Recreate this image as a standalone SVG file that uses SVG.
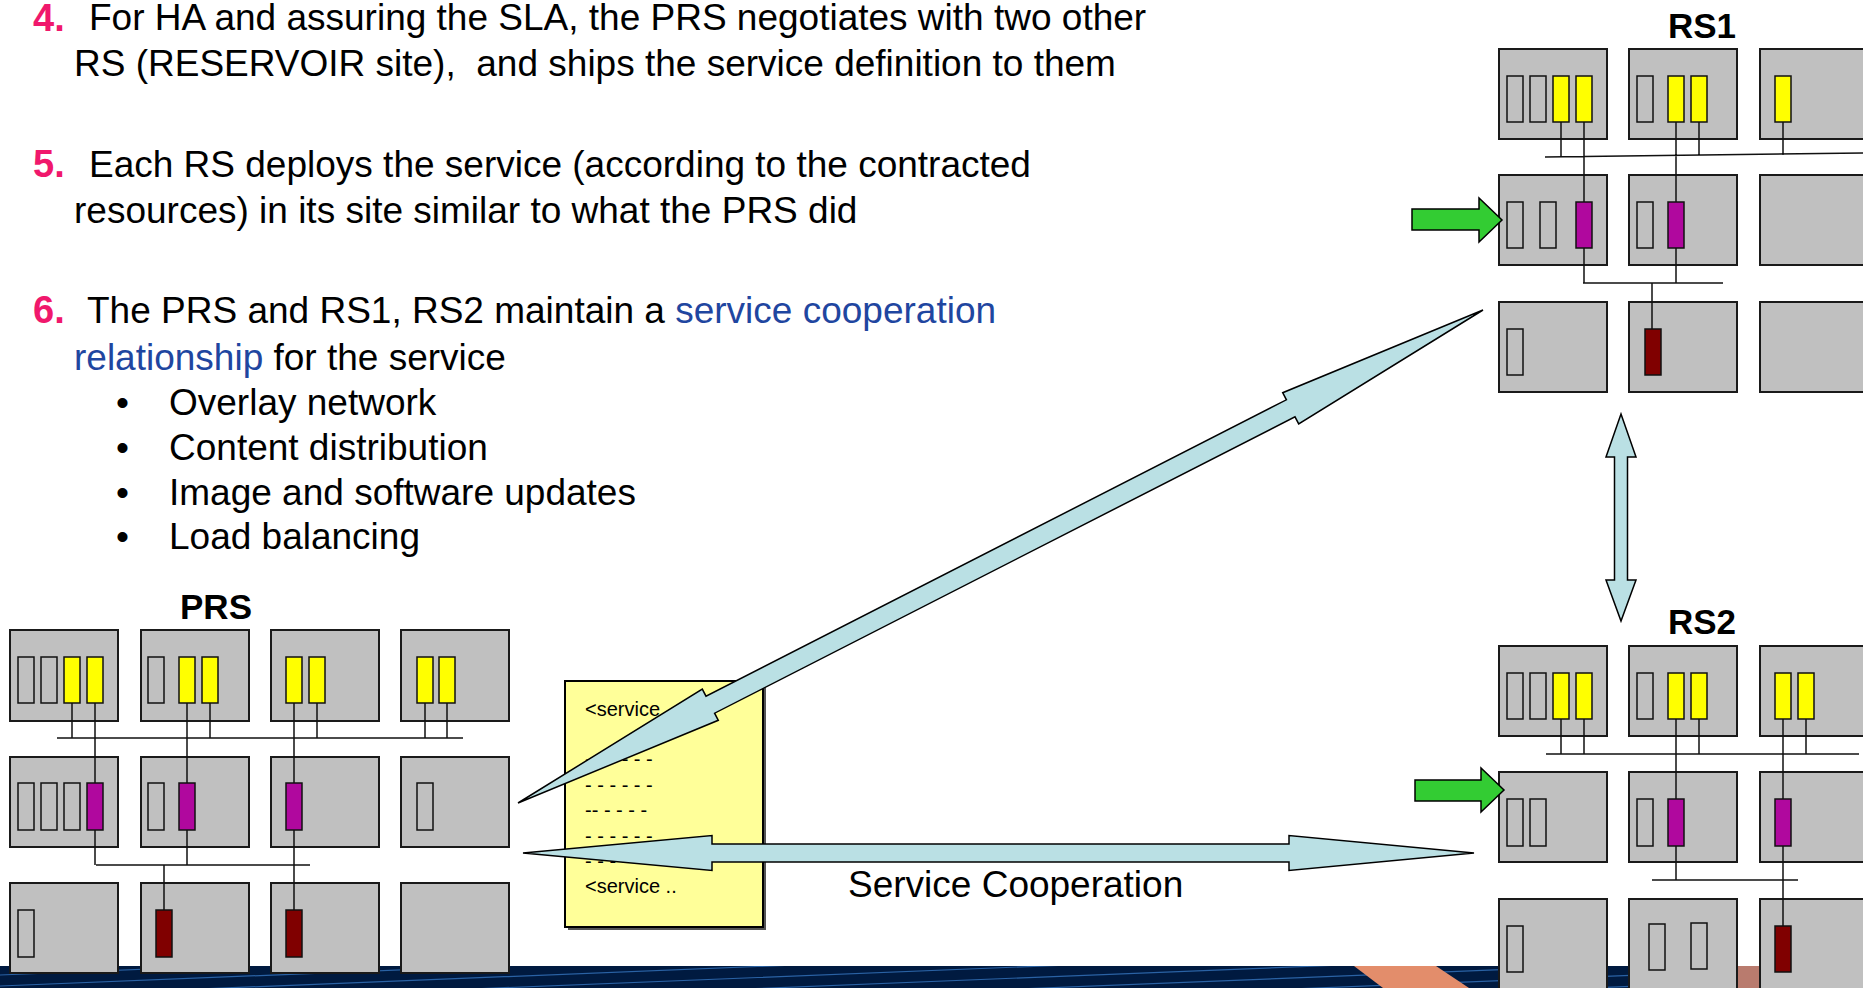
<svg xmlns="http://www.w3.org/2000/svg" width="1863" height="988" viewBox="0 0 1863 988">
<defs>
<style>
text{font-family:"Liberation Sans",Arial,sans-serif;fill:#000}
.t{font-size:37px;white-space:pre}
.n{font-size:38px;font-weight:bold;fill:#f0186c}
.bl{fill:#1f46a0}
.h{font-size:35px;font-weight:bold;text-anchor:middle}
.d{font-size:20px;white-space:pre}
.box{fill:#c0c0c0;stroke:#1a1a1a;stroke-width:2}
.s{stroke:#111;stroke-width:1.5}
.e{fill:#c0c0c0}.y{fill:#ffff00}.m{fill:#b0089e}.r{fill:#800000}
.w{stroke:#111;stroke-width:1.5;fill:none}
.big{fill:#bae0e4;stroke:#000;stroke-width:1.5;stroke-linejoin:miter}
.grn{fill:#33cc33;stroke:#000;stroke-width:1.5}
.bandl{stroke:#2a62a4;stroke-width:1.2;fill:none}
</style>
<clipPath id="bandclip"><rect x="0" y="966" width="1863" height="22"/></clipPath>
</defs>
<rect width="1863" height="988" fill="#ffffff"/>
<g id="band">
<rect x="0" y="966" width="1863" height="22" fill="#001a40"/>
<g clip-path="url(#bandclip)">
<path class="bandl" d="M0 975L1863 900M0 986L1863 911M0 997L1863 922M0 1008L1863 933M0 1019L1863 944M0 1030L1863 955M0 1041L1863 966M0 1052L1863 977M0 1063L1863 988M0 1074L1863 999"/>
<polygon points="1354,966 1436,966 1469,988 1383,988" fill="#e38d6b"/>
<polygon points="1690,966 1762,966 1790,988 1718,988" fill="#b97b6e"/>
</g>
</g>
<g id="text">
<text class="n" x="33" y="31">4.</text>
<text class="t" x="89" y="30">For HA and assuring the SLA, the PRS negotiates with two other</text>
<text class="t" x="74" y="76">RS (RESERVOIR site),  and ships the service definition to them</text>
<text class="n" x="33" y="177">5.</text>
<text class="t" x="89" y="177">Each RS deploys the service (according to the contracted</text>
<text class="t" x="74" y="223">resources) in its site similar to what the PRS did</text>
<text class="n" x="33" y="323">6.</text>
<text class="t" x="87" y="323">The PRS and RS1, RS2 maintain a <tspan class="bl">service cooperation</tspan></text>
<text class="t" x="74" y="370"><tspan class="bl">relationship</tspan> for the service</text>
<text class="t" x="116" y="415">•</text><text class="t" x="169" y="415">Overlay network</text>
<text class="t" x="116" y="460">•</text><text class="t" x="169" y="460">Content distribution</text>
<text class="t" x="116" y="505">•</text><text class="t" x="169" y="505">Image and software updates</text>
<text class="t" x="116" y="549">•</text><text class="t" x="169" y="549">Load balancing</text>
</g>
<g id="prs">
<text class="h" x="216" y="619">PRS</text>
<g id="prs-a1"><rect class="box" x="10" y="630" width="108" height="91"/></g>
<g id="prs-b1"><rect class="box" x="141" y="630" width="108" height="91"/></g>
<g id="prs-c1"><rect class="box" x="271" y="630" width="108" height="91"/></g>
<g id="prs-d1"><rect class="box" x="401" y="630" width="108" height="91"/></g>
<g id="prs-a2"><rect class="box" x="10" y="757" width="108" height="90"/></g>
<g id="prs-b2"><rect class="box" x="141" y="757" width="108" height="90"/></g>
<g id="prs-c2"><rect class="box" x="271" y="757" width="108" height="90"/></g>
<g id="prs-d2"><rect class="box" x="401" y="757" width="108" height="90"/></g>
<g id="prs-a3"><rect class="box" x="10" y="883" width="108" height="90"/></g>
<g id="prs-b3"><rect class="box" x="141" y="883" width="108" height="90"/></g>
<g id="prs-c3"><rect class="box" x="271" y="883" width="108" height="90"/></g>
<g id="prs-d3"><rect class="box" x="401" y="883" width="108" height="90"/></g>
<path class="w" d="M57 738H463M72 703V738M95 703V865M187 703V865M210 703V738M294 703V910M317 703V738M425 703V738M447 703V738M96 865H310M164 865V910"/>
<g id="prs-slots">
<rect class="s e" x="18" y="657" width="16" height="46"/><rect class="s e" x="41" y="657" width="16" height="46"/><rect class="s y" x="64" y="657" width="16" height="46"/><rect class="s y" x="87" y="657" width="16" height="46"/>
<rect class="s e" x="148" y="657" width="16" height="46"/><rect class="s y" x="179" y="657" width="16" height="46"/><rect class="s y" x="202" y="657" width="16" height="46"/>
<rect class="s y" x="286" y="657" width="16" height="46"/><rect class="s y" x="309" y="657" width="16" height="46"/>
<rect class="s y" x="417" y="657" width="16" height="46"/><rect class="s y" x="439" y="657" width="16" height="46"/>
<rect class="s e" x="18" y="783" width="16" height="47"/><rect class="s e" x="41" y="783" width="16" height="47"/><rect class="s e" x="64" y="783" width="16" height="47"/><rect class="s m" x="87" y="783" width="16" height="47"/>
<rect class="s e" x="148" y="783" width="16" height="47"/><rect class="s m" x="179" y="783" width="16" height="47"/>
<rect class="s m" x="286" y="783" width="16" height="47"/>
<rect class="s e" x="417" y="783" width="16" height="47"/>
<rect class="s e" x="18" y="910" width="16" height="47"/>
<rect class="s r" x="156" y="910" width="16" height="47"/>
<rect class="s r" x="286" y="910" width="16" height="47"/>
</g>
</g>
<g id="rs1">
<text class="h" x="1702" y="38">RS1</text>
<g id="rs1-a1"><rect class="box" x="1499" y="49" width="108" height="90"/></g>
<g id="rs1-b1"><rect class="box" x="1629" y="49" width="108" height="90"/></g>
<g id="rs1-c1"><rect class="box" x="1760" y="49" width="108" height="90"/></g>
<g id="rs1-a2"><rect class="box" x="1499" y="175" width="108" height="90"/></g>
<g id="rs1-b2"><rect class="box" x="1629" y="175" width="108" height="90"/></g>
<g id="rs1-c2"><rect class="box" x="1760" y="175" width="108" height="90"/></g>
<g id="rs1-a3"><rect class="box" x="1499" y="302" width="108" height="90"/></g>
<g id="rs1-b3"><rect class="box" x="1629" y="302" width="108" height="90"/></g>
<g id="rs1-c3"><rect class="box" x="1760" y="302" width="108" height="90"/></g>
<path class="w" d="M1545 157L1863 153M1561 122V157M1584 122V283M1676 122V283M1699 122V156M1783 122V155M1583 283H1723M1652 283V329"/>
<g id="rs1-slots">
<rect class="s e" x="1507" y="76" width="16" height="46"/><rect class="s e" x="1530" y="76" width="16" height="46"/><rect class="s y" x="1553" y="76" width="16" height="46"/><rect class="s y" x="1576" y="76" width="16" height="46"/>
<rect class="s e" x="1637" y="76" width="16" height="46"/><rect class="s y" x="1668" y="76" width="16" height="46"/><rect class="s y" x="1691" y="76" width="16" height="46"/>
<rect class="s y" x="1775" y="76" width="16" height="46"/>
<rect class="s e" x="1507" y="202" width="16" height="46"/><rect class="s e" x="1540" y="202" width="16" height="46"/><rect class="s m" x="1576" y="202" width="16" height="46"/>
<rect class="s e" x="1637" y="202" width="16" height="46"/><rect class="s m" x="1668" y="202" width="16" height="46"/>
<rect class="s e" x="1507" y="329" width="16" height="46"/>
<rect class="s r" x="1645" y="329" width="16" height="46"/>
</g>
<polygon id="rs1-in" class="grn" points="1412,209 1479,209 1479,198 1502,220 1479,242 1479,230 1412,230"/>
</g>
<g id="rs2">
<text class="h" x="1702" y="634">RS2</text>
<g id="rs2-a1"><rect class="box" x="1499" y="646" width="108" height="90"/></g>
<g id="rs2-b1"><rect class="box" x="1629" y="646" width="108" height="90"/></g>
<g id="rs2-c1"><rect class="box" x="1760" y="646" width="108" height="90"/></g>
<g id="rs2-a2"><rect class="box" x="1499" y="772" width="108" height="90"/></g>
<g id="rs2-b2"><rect class="box" x="1629" y="772" width="108" height="90"/></g>
<g id="rs2-c2"><rect class="box" x="1760" y="772" width="108" height="90"/></g>
<g id="rs2-a3"><rect class="box" x="1499" y="899" width="108" height="92"/></g>
<g id="rs2-b3"><rect class="box" x="1629" y="899" width="108" height="92"/></g>
<g id="rs2-c3"><rect class="box" x="1760" y="899" width="108" height="92"/></g>
<path class="w" d="M1546 754H1859M1561 719V754M1584 719V754M1676 719V880M1699 719V754M1783 719V926M1806 719V754M1652 880H1798"/>
<g id="rs2-slots">
<rect class="s e" x="1507" y="673" width="16" height="46"/><rect class="s e" x="1530" y="673" width="16" height="46"/><rect class="s y" x="1553" y="673" width="16" height="46"/><rect class="s y" x="1576" y="673" width="16" height="46"/>
<rect class="s e" x="1637" y="673" width="16" height="46"/><rect class="s y" x="1668" y="673" width="16" height="46"/><rect class="s y" x="1691" y="673" width="16" height="46"/>
<rect class="s y" x="1775" y="673" width="16" height="46"/><rect class="s y" x="1798" y="673" width="16" height="46"/>
<rect class="s e" x="1507" y="799" width="16" height="47"/><rect class="s e" x="1530" y="799" width="16" height="47"/>
<rect class="s e" x="1637" y="799" width="16" height="47"/><rect class="s m" x="1668" y="799" width="16" height="47"/>
<rect class="s m" x="1775" y="799" width="16" height="47"/>
<rect class="s e" x="1507" y="926" width="16" height="46"/>
<rect class="s e" x="1649" y="924" width="16" height="46"/><rect class="s e" x="1691" y="923" width="16" height="46"/>
<rect class="s r" x="1775" y="926" width="16" height="46"/>
</g>
<polygon id="rs2-in" class="grn" points="1415,780 1481,780 1481,768 1504,790 1481,812 1481,801 1415,801"/>
</g>
<g id="servicedoc">
<rect x="568" y="684" width="198" height="246" fill="#555"/>
<rect x="565" y="681" width="198" height="246" fill="#ffff99" stroke="#000" stroke-width="2"/>
<text class="d" x="585" y="716">&lt;service</text>
<text class="d" x="585" y="766">- - - - - -</text>
<text class="d" x="585" y="792">- - - - - -</text>
<text class="d" x="585" y="817">-- - - - -</text>
<text class="d" x="585" y="843">- - - - - -</text>
<text class="d" x="585" y="868">- - - - - -</text>
<text class="d" x="585" y="893">&lt;service ..</text>
</g>
<g id="connectors">
<polygon class="big" points="518,803 718.3,720.3 714.6,713.2 1295,416.8 1298.7,423.9 1483,310 1282.7,392.7 1286.4,399.8 706,696.2 702.3,689.1"/>
<polygon class="big" points="523,853 712,835.5 712,844 1289,844 1289,835.5 1474,853 1289,870.5 1289,862 712,862 712,870.5"/>
<polygon class="big" points="1621,414 1636,457 1627.5,457 1627.5,580 1636,580 1621,621 1606,580 1614.5,580 1614.5,457 1606,457"/>
<text class="t" x="848" y="897">Service Cooperation</text>
</g>
</svg>
